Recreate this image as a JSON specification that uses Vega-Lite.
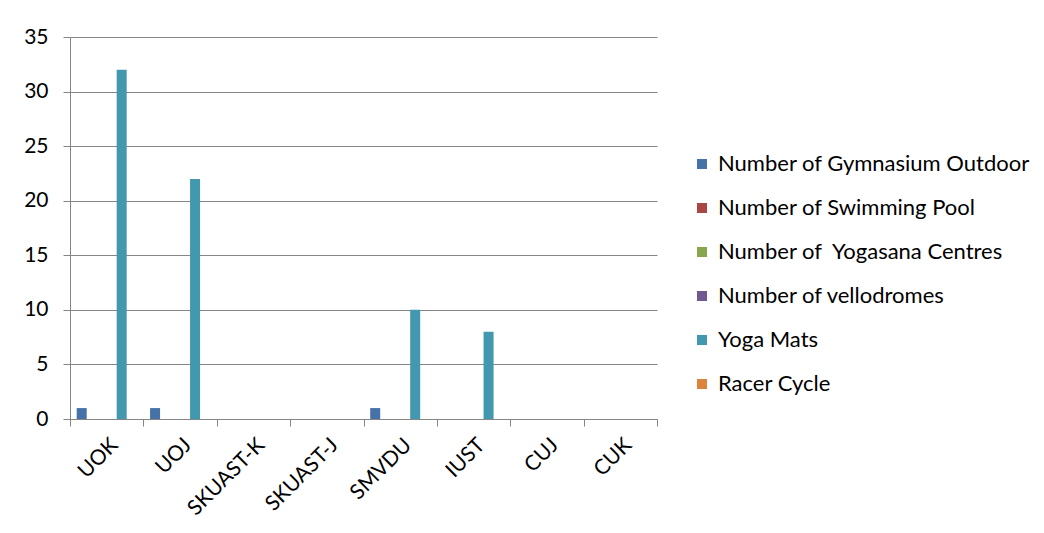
{
  "$schema": "https://vega.github.io/schema/vega-lite/v6.json",
  "autosize": "none",
  "padding": {"left": 70, "top": 37, "right": 387, "bottom": 114},
  "width": 587,
  "height": 382,
  "background": "white",
  "config": {
    "view": {"stroke": null},
    "font": "Lato",
    "axis": {"domainColor": "#868686", "tickColor": "#868686", "gridColor": "#868686", "labelColor": "#000000", "labelFont": "Lato"}
  },
  "data": {
    "values": [
      {"uni": "UOK", "series": "Number of Gymnasium Outdoor", "value": 1},
      {"uni": "UOK", "series": "Number of Swimming Pool", "value": 0},
      {"uni": "UOK", "series": "Number of  Yogasana Centres", "value": 0},
      {"uni": "UOK", "series": "Number of vellodromes", "value": 0},
      {"uni": "UOK", "series": "Yoga Mats", "value": 32},
      {"uni": "UOK", "series": "Racer Cycle", "value": 0},
      {"uni": "UOJ", "series": "Number of Gymnasium Outdoor", "value": 1},
      {"uni": "UOJ", "series": "Number of Swimming Pool", "value": 0},
      {"uni": "UOJ", "series": "Number of  Yogasana Centres", "value": 0},
      {"uni": "UOJ", "series": "Number of vellodromes", "value": 0},
      {"uni": "UOJ", "series": "Yoga Mats", "value": 22},
      {"uni": "UOJ", "series": "Racer Cycle", "value": 0},
      {"uni": "SKUAST-K", "series": "Number of Gymnasium Outdoor", "value": 0},
      {"uni": "SKUAST-K", "series": "Yoga Mats", "value": 0},
      {"uni": "SKUAST-J", "series": "Number of Gymnasium Outdoor", "value": 0},
      {"uni": "SKUAST-J", "series": "Yoga Mats", "value": 0},
      {"uni": "SMVDU", "series": "Number of Gymnasium Outdoor", "value": 1},
      {"uni": "SMVDU", "series": "Yoga Mats", "value": 10},
      {"uni": "IUST", "series": "Number of Gymnasium Outdoor", "value": 0},
      {"uni": "IUST", "series": "Yoga Mats", "value": 8},
      {"uni": "CUJ", "series": "Number of Gymnasium Outdoor", "value": 0},
      {"uni": "CUJ", "series": "Yoga Mats", "value": 0},
      {"uni": "CUK", "series": "Number of Gymnasium Outdoor", "value": 0},
      {"uni": "CUK", "series": "Yoga Mats", "value": 0}
    ]
  },
  "mark": {"type": "bar"},
  "encoding": {
    "x": {
      "field": "uni",
      "type": "nominal",
      "sort": ["UOK", "UOJ", "SKUAST-K", "SKUAST-J", "SMVDU", "IUST", "CUJ", "CUK"],
      "scale": {"paddingInner": 0, "paddingOuter": 0},
      "axis": {"title": null, "labelAngle": -45, "labelFontSize": 21, "tickBand": "extent", "tickSize": 7, "labelPadding": 8, "grid": false}
    },
    "xOffset": {
      "field": "series",
      "type": "nominal",
      "sort": ["Number of Gymnasium Outdoor", "Number of Swimming Pool", "Number of  Yogasana Centres", "Number of vellodromes", "Yoga Mats", "Racer Cycle"],
      "scale": {"paddingInner": 0, "paddingOuter": 0.67}
    },
    "y": {
      "field": "value",
      "type": "quantitative",
      "scale": {"domain": [0, 35], "nice": false},
      "axis": {"title": null, "values": [0, 5, 10, 15, 20, 25, 30, 35], "labelFontSize": 21, "tickSize": 7, "labelPadding": 15}
    },
    "color": {
      "field": "series",
      "type": "nominal",
      "scale": {
        "domain": ["Number of Gymnasium Outdoor", "Number of Swimming Pool", "Number of  Yogasana Centres", "Number of vellodromes", "Yoga Mats", "Racer Cycle"],
        "range": ["#4572A7", "#AA4643", "#89A54E", "#71588F", "#4198AF", "#DB843D"]
      },
      "legend": {
        "title": null,
        "orient": "none",
        "legendX": 621,
        "legendY": 116,
        "symbolType": "square",
        "symbolSize": 100,
        "symbolStrokeWidth": 0,
        "labelFontSize": 22,
        "labelColor": "#000000",
        "labelLimit": 420,
        "labelExpr": "replace(datum.label, '  ', '\u00a0 ')",
        "rowPadding": 22,
        "labelOffset": 5
      }
    }
  }
}
